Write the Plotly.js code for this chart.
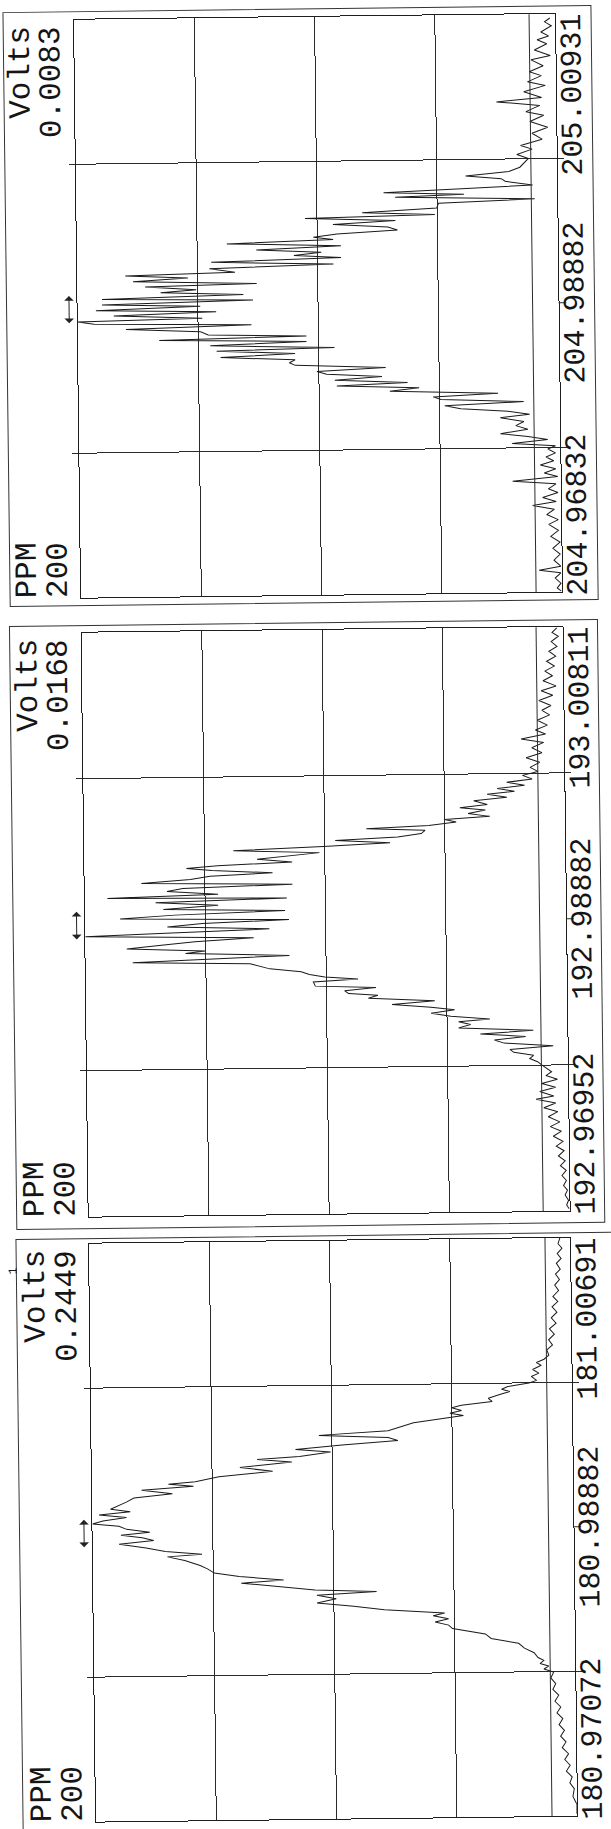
<!DOCTYPE html>
<html><head><meta charset="utf-8">
<script src="https://cdn.plot.ly/plotly-3.0.1.min.js"></script>
<style>
html,body{margin:0;padding:0;background:#fff;overflow:hidden;}
#chart{width:611px;height:1829px;transform:rotate(-0.7deg);transform-origin:50% 50%;}
</style></head><body><div id="chart"></div>
<script>
// ---------- labels ----------
const panelMassMin = ['204.96832', '192.96952', '180.97072'];
const panelMassMid = ['204.98882', '192.98882', '180.98882'];
const panelMassMax = ['205.00931', '193.00811', '181.00691'];
const panelFullScaleVolts = ['0.0083', '0.0168', '0.2449'];
const ppmWindowLabel = '200';
const massLabelPpm = [0, 100, 200];     // where the three mass labels sit (ppm into window)
const gridPpm = [50, 150];
const gridRel = [25, 50, 75];
const thresholdRel = [5.4, 5.5, 5.2];   // reference line, % of full scale
const markerPpm = [95, 105];            // double arrow window around centre mass

// ---------- data: ppm into the 200 ppm window / intensity in % of full scale ----------
// top panel (204.9 m/z)
const ppmTop = [198.6,197.3,195.9,193.8,192.4,191.1,189.7,187.6,185.6,184.2,182.1,180.1,178.7,176.6,175.3,173.2,171.1,169.8,168.4,166.3,
165.0,162.9,160.8,158.8,156.7,154.6,153.3,151.5,150.1,148.7,
147.1,145.7,144.3,143.2,142.3,140.9,139.9,138.8,138.0,137.2,136.1,135.0,133.3,132.0,131.1,130.3,129.2,128.1,127.0,125.9,
124.8,123.7,122.9,121.8,120.7,119.6,118.5,117.5,116.6,115.5,114.4,113.3,112.0,111.1,110.2,109.1,108.0,107.2,106.1,105.2,
104.2,103.1,102.3,101.2,100.3,99.2,98.4,97.3,96.2,95.4,94.6,93.7,92.6,91.5,90.4,89.6,88.7,87.7,86.6,85.5,
84.7,83.6,82.5,81.4,80.4,79.5,78.4,77.3,76.3,75.3,74.2,73.1,72.2,71.2,70.1,69.0,68.0,67.1,66.0,64.9,
63.8,62.7,61.6,60.5,59.1,57.7,56.4,55.0,53.9,52.8,51.5,50.6,49.5,
48.1,46.7,45.4,44.0,42.6,41.2,39.9,38.5,37.4,35.7,34.4,32.7,31.3,30.0,28.6,26.8,25.0,23.4,21.3,19.2,17.2,15.1,13.1,11.0,8.9,7.6,6.6,4.8,3.0,1.4,0.3];
const relTop = [1.1,2.2,0.8,3.0,1.4,3.8,1.8,4.4,1.1,5.1,2.6,5.5,3.0,5.9,2.2,6.7,3.0,12.4,3.4,6.3,
2.6,5.5,1.8,5.1,3.0,7.5,5.1,8.3,5.9,6.7,
7.7,10.0,19.0,11.6,10.8,5.1,19.0,36.1,19.4,33.7,4.7,24.7,25.1,40.6,25.5,52.5,33.7,46.7,35.3,33.3,
45.9,50.8,46.7,68.8,45.1,62.7,49.2,54.9,45.1,72.1,46.7,72.5,67.2,90.0,77.0,88.4,62.7,85.9,75.3,82.7,
65.5,94.9,63.5,94.9,74.5,96.2,71.2,92.5,74.1,100,96.6,63.9,90.0,74.5,72.9,52.5,83.1,52.5,72.5,46.7,
71.2,54.9,70.4,54.9,56.1,54.9,36.1,50.4,48.4,36.9,46.7,31.6,46.3,29.2,35.3,12.8,26.3,24.7,7.5,23.9,
20.6,10.8,6.3,12.4,7.5,9.2,6.7,12.4,6.7,2.6,10.0,1.0,2.6,
1.0,3.0,1.4,4.2,1.0,3.4,0.6,10.0,1.0,2.6,0.6,3.8,1.0,5.9,1.4,3.0,0.6,2.6,0.6,2.2,0.3,1.8,0.3,1.6,0.2,4.7,0.2,1.4,0.2,1.0,0.2];

// middle panel (192.9 m/z)
const ppmMid = [199.7,198.1,196.8,195.0,193.3,191.7,190.0,188.3,186.6,184.9,183.3,181.6,179.8,178.2,176.6,174.9,173.1,171.5,169.9,168.1,
166.4,164.8,163.4,161.8,160.5,158.7,157.0,155.3,153.7,152.0,150.6,
149.3,148.0,147.0,145.9,144.9,143.9,143.0,141.9,140.8,139.5,138.5,137.6,136.5,135.4,134.5,133.6,132.5,131.7,130.9,129.8,
128.7,127.8,126.8,125.8,124.7,123.7,122.8,121.7,120.6,119.6,118.8,118.0,117.0,116.1,115.0,113.9,113.0,112.0,111.0,109.9,
108.9,108.3,107.2,106.1,104.9,104.0,102.9,101.8,100.9,99.9,98.9,97.8,96.7,95.9,94.8,93.7,92.7,91.5,90.5,89.7,
88.6,87.7,86.8,85.9,84.1,83.0,82.0,81.1,80.3,79.4,78.0,77.3,76.3,75.3,74.6,73.6,72.5,71.4,70.3,69.3,
68.2,67.1,66.0,65.2,64.2,63.1,62.0,60.9,59.9,58.8,57.7,56.6,55.5,54.5,53.4,52.3,51.2,50.2,49.1,
47.7,46.4,45.1,43.7,42.4,41.0,39.4,38.3,37.0,35.4,34.0,32.3,30.5,28.9,27.3,25.6,23.8,22.2,20.6,18.8,17.1,15.5,13.9,12.1,10.4,8.7,7.1,5.4,3.6,2.0,0.7];
const relMid = [1.2,2.2,0.9,2.4,1.2,2.9,1.5,3.4,1.8,3.8,2.2,4.2,1.5,4.6,2.2,5.1,2.6,4.5,2.9,5.5,
3.4,5.9,3.8,8.9,4.2,6.7,4.6,7.9,5.1,7.1,5.5,
8.7,6.7,12.0,8.3,14.0,10.4,16.1,12.0,18.9,16.1,21.8,16.5,20.1,15.6,25.0,22.6,28.3,41.3,29.1,29.9,
34.8,47.8,36.4,50.3,69.0,51.1,57.2,64.1,56.8,72.3,78.8,73.5,60.9,73.9,78.0,88.2,56.8,79.6,82.9,72.3,
95.3,58.0,85.3,72.3,83.7,58.4,81.3,92.7,57.6,75.6,82.9,61.7,84.5,100,65.0,77.2,83.7,91.4,75.1,79.2,
57.6,75.6,90.2,65.8,61.7,55.2,53.5,50.3,43.4,52.7,52.3,39.7,46.2,45.4,39.3,41.3,27.5,36.4,28.3,23.4,
28.3,24.2,16.1,22.6,20.1,22.6,7.1,18.1,8.7,15.2,13.2,3.0,12.0,11.2,7.1,7.9,6.3,5.5,4.6,
3.4,4.6,2.2,5.5,2.6,5.9,3.0,6.7,2.6,5.1,2.2,4.2,1.8,3.8,1.5,3.2,1.2,2.6,1.0,2.2,0.8,1.8,0.6,1.5,0.6,1.2,0.4,0.9,0.2,0.6,0.1];

// bottom panel (180.9 m/z)
const ppmBot = [200.0,198.0,196.4,194.6,192.9,191.2,189.2,187.5,185.6,183.7,181.8,179.8,178.0,176.2,174.3,172.4,170.5,168.6,166.7,164.8,
163.0,161.3,159.5,158.1,
157.0,156.0,154.6,153.3,152.2,150.8,149.9,148.8,147.9,147.1,146.1,144.8,143.7,142.5,141.7,140.7,139.8,139.0,136.7,135.4,
134.0,132.7,131.7,130.6,129.3,127.9,126.9,125.5,124.6,123.6,121.9,120.5,118.8,117.2,116.4,115.6,114.5,113.1,111.8,110.4,
109.1,108.0,107.1,106.1,105.1,104.0,103.0,102.1,101.0,99.9,99.0,98.0,97.0,95.9,94.5,93.2,92.1,91.3,90.0,88.2,
86.9,85.5,84.2,82.8,81.9,80.5,79.2,78.4,77.4,76.1,74.7,73.4,72.1,70.7,69.8,68.7,67.6,66.5,65.3,63.3,
61.7,59.9,58.2,56.6,54.9,53.9,52.8,51.9,50.9,49.8,
47.8,45.8,43.8,41.8,39.7,37.7,35.7,33.7,31.6,29.6,27.6,25.6,23.6,21.5,19.5,17.5,15.5,13.5,11.4,9.4,6.7,4.0,0.7];
const relBot = [2.1,2.5,1.7,2.7,1.9,2.9,2.1,3.1,2.3,3.3,2.5,3.7,2.7,3.9,2.9,4.1,3.1,4.5,3.5,4.7,
3.9,5.1,4.7,5.7,
7.3,6.3,8.1,6.8,8.4,7.3,8.9,13.3,14.6,12.9,15.0,17.4,16.6,23.0,25.0,23.0,25.4,22.6,33.0,35.5,
38.3,52.7,38.3,36.3,47.9,57.6,50.3,56.8,65.6,58.4,69.2,62.4,73.6,78.5,84.1,78.9,89.7,83.3,91.3,92.9,
94.5,96.2,92.1,98.6,92.9,97.8,100,94.5,92.9,88.1,94.1,89.7,87.3,94.5,88.9,84.9,77.3,84.5,80.9,77.7,
76.1,74.8,69.6,60.4,69.2,60.8,53.9,41.1,53.5,49.5,53.5,45.9,39.5,27.0,29.4,26.2,29.0,26.2,25.4,18.6,
17.4,11.7,10.5,8.5,7.7,6.5,7.3,5.5,6.5,4.5,
5.1,4.1,4.7,3.5,4.3,3.1,3.9,2.7,3.5,2.4,3.2,2.1,2.9,1.6,2.4,1.3,2.1,0.9,1.4,0.5,0.8,0,0];

// ---------- layout (pixel boxes of the three panels, unrotated page coords) ----------
const W = 611, H = 1829;
const plotBoxes = [[85, 566, 17, 595], [85, 566, 630, 1214], [85, 566, 1241, 1819]]; // L R T B
const frameBoxes = [[14, 602, 9, 603], [13, 601, 623, 1226], [12, 616, 1236, 1834]];
const px = v => v / W, py = v => 1 - v / H;
const FONT = {family: '"Liberation Mono", "Courier New", monospace', size: 31, color: '#151515'};
const MASSFONT = {family: '"Liberation Mono", "Courier New", monospace', size: 30, color: '#151515'};
const INK = '#1e1e1e';

const ppmSets = [ppmTop, ppmMid, ppmBot];
const relSets = [relTop, relMid, relBot];

const traces = [];
const layout = {
  width: W, height: H, margin: {l: 0, r: 0, t: 0, b: 0},
  paper_bgcolor: '#fff', plot_bgcolor: '#fff', showlegend: false,
  shapes: [], annotations: []
};

for (let i = 0; i < 3; i++) {
  const sfx = i === 0 ? '' : String(i + 1);
  const [L, R, T, B] = plotBoxes[i];
  traces.push({
    type: 'scatter', mode: 'lines', x: relSets[i], y: ppmSets[i],
    xaxis: 'x' + sfx, yaxis: 'y' + sfx,
    line: {color: '#1a1a1a', width: 1}, hoverinfo: 'skip'
  });
  layout['xaxis' + sfx] = {
    domain: [px(L), px(R)], range: [100, 0], anchor: 'y' + sfx,
    tickmode: 'array', tickvals: gridRel, showticklabels: false, ticks: '',
    showgrid: true, gridcolor: '#2b2b2b', gridwidth: 1, zeroline: false,
    showline: true, mirror: true, linecolor: INK, linewidth: 1, fixedrange: true
  };
  layout['yaxis' + sfx] = {
    domain: [py(B), py(T)], range: [0, 200], anchor: 'x' + sfx,
    tickmode: 'array', tickvals: gridPpm, showticklabels: false,
    ticks: 'outside', ticklen: 6, tickcolor: '#2b2b2b', tickwidth: 1,
    showgrid: true, gridcolor: '#2b2b2b', gridwidth: 1, zeroline: false,
    showline: true, mirror: 'ticks', linecolor: INK, linewidth: 1, fixedrange: true
  };
  // reference (threshold) line
  layout.shapes.push({type: 'line', xref: 'x' + sfx, yref: 'y' + sfx + ' domain',
    x0: thresholdRel[i], x1: thresholdRel[i], y0: 0, y1: 1, line: {color: '#2b2b2b', width: 1}});
  // centre-mass tick on the mass side
  layout.shapes.push({type: 'line', xref: 'x' + sfx + ' domain', yref: 'y' + sfx,
    x0: 1, x1: 1.016, y0: massLabelPpm[1], y1: massLabelPpm[1], line: {color: '#2b2b2b', width: 1}});
  // outer frame
  const [fL, fR, fT, fB] = frameBoxes[i];
  layout.shapes.push({type: 'rect', xref: 'paper', yref: 'paper',
    x0: px(fL), x1: px(fR), y0: py(fB), y1: py(fT), line: {color: '#333', width: 1}});

  const yd = 'y' + sfx + ' domain';
  const rot = {showarrow: false, textangle: -90, font: FONT};
  const rotM = {showarrow: false, textangle: -90, font: MASSFONT};
  // left-hand labels
  layout.annotations.push(Object.assign({text: 'Volts', xref: 'paper', yref: yd, x: px(31), y: 1, xanchor: 'center', yanchor: 'top', yshift: -4}, rot));
  layout.annotations.push(Object.assign({text: panelFullScaleVolts[i], xref: 'paper', yref: yd, x: px(62), y: 1, xanchor: 'center', yanchor: 'top', yshift: -4}, rot));
  layout.annotations.push(Object.assign({text: 'PPM', xref: 'paper', yref: yd, x: px(31), y: 0, xanchor: 'center', yanchor: 'bottom', yshift: -2}, rot));
  layout.annotations.push(Object.assign({text: ppmWindowLabel, xref: 'paper', yref: yd, x: px(62), y: 0, xanchor: 'center', yanchor: 'bottom', yshift: -2}, rot));
  // mass labels
  layout.annotations.push(Object.assign({text: panelMassMin[i], xref: 'paper', yref: 'y' + sfx, x: px(583), y: massLabelPpm[0], xanchor: 'center', yanchor: 'bottom', yshift: -6}, rotM));
  layout.annotations.push(Object.assign({text: panelMassMid[i], xref: 'paper', yref: 'y' + sfx, x: px(583), y: massLabelPpm[1], xanchor: 'center', yanchor: 'middle'}, rotM));
  layout.annotations.push(Object.assign({text: panelMassMax[i], xref: 'paper', yref: 'y' + sfx, x: px(583), y: massLabelPpm[2], xanchor: 'center', yanchor: 'top', yshift: 2}, rotM));
  // double arrow marking the centre window
  layout.annotations.push({text: '', xref: 'paper', yref: 'y' + sfx, x: px(76.5), y: markerPpm[0],
    axref: 'pixel', ayref: 'y' + sfx, ax: 0, ay: markerPpm[1], showarrow: true,
    arrowside: 'end+start', arrowhead: 1, arrowsize: 1.6, arrowwidth: 1, arrowcolor: '#222', standoff: 0, startstandoff: 0});
}
// page-number fragment at the left edge
layout.annotations.push({text: '1', xref: 'paper', yref: 'paper', x: 0, y: py(1268), xanchor: 'left', yanchor: 'middle',
  showarrow: false, textangle: -90, font: {family: FONT.family, size: 12, color: '#151515'}});

Plotly.newPlot('chart', traces, layout, {staticPlot: true, displayModeBar: false});
</script></body></html>
